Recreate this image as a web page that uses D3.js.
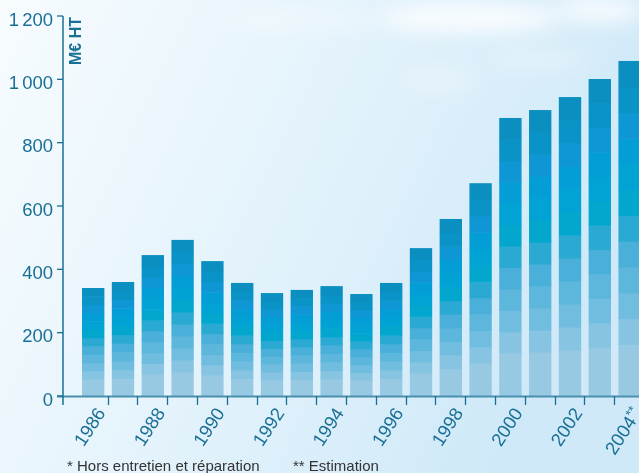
<!DOCTYPE html>
<html>
<head>
<meta charset="utf-8">
<script src="https://cdn.jsdelivr.net/npm/d3@7"></script>
<style>
  html, body { margin: 0; padding: 0; background: #eef8fd; }
  svg { display: block; }
  text { font-family: "Liberation Sans Narrow", "Liberation Sans", sans-serif; }
</style>
</head>
<body>
<svg id="chart" width="639" height="473"></svg>
<script>
// ---- data ----
const years = ["1986","1987","1988","1989","1990","1991","1992","1993","1994","1995","1996","1997","1998","1999","2000","2001","2002","2003","2004"];
const values = [341, 360, 445, 493, 426, 357, 325, 335, 347, 322, 357, 467, 559, 672, 878, 903, 944, 1001, 1058];
const yTicks = [0, 200, 400, 600, 800, 1000, 1200];
const xLabels = ["1986","1988","1990","1992","1994","1996","1998","2000","2002","2004**"];
const unitLabel = "M€ HT";
const note1 = "* Hors entretien et réparation";
const note2 = "** Estimation";

// band styling (top to bottom), bottom band has double weight
const bandColors = ["#0a8fc0","#0a93c6","#0e97d4","#049ed6","#00a3d4","#03a7ce","#2aa9d3","#4bb0d9","#5db7dc","#70bde0","#87c4e2","#98c9e3"];
const bandWeights = [1,1,1,1,1,1,1,1,1,1,1,2];

const svg = d3.select("#chart");
const W = 639, H = 473;

// ---- background ----
const defs = svg.append("defs");
const bg = defs.append("linearGradient").attr("id","bg").attr("x1","0").attr("y1","0").attr("x2","1").attr("y2","0.35");
bg.append("stop").attr("offset","0%").attr("stop-color","#f7fcfe");
bg.append("stop").attr("offset","45%").attr("stop-color","#e6f4fc");
bg.append("stop").attr("offset","100%").attr("stop-color","#cfe9f8");
svg.append("rect").attr("width",W).attr("height",H).attr("fill","url(#bg)");
const blur = defs.append("filter").attr("id","blur").attr("x","-50%").attr("y","-50%").attr("width","200%").attr("height","200%");
blur.append("feGaussianBlur").attr("stdDeviation","10");
const clouds = svg.append("g").attr("filter","url(#blur)");
[[470,18,90,14,0.85],[600,10,45,12,0.8],[440,80,40,10,0.35],[540,60,50,10,0.3],[300,20,80,12,0.3]].forEach(c=>{
  clouds.append("ellipse").attr("cx",c[0]).attr("cy",c[1]).attr("rx",c[2]).attr("ry",c[3]).attr("fill","#ffffff").attr("opacity",c[4]);
});

// ---- scales ----
const y = d3.scaleLinear().domain([0, 1200]).range([396, 16]);
const x = d3.scaleBand().domain(years).range([78.3, 78.3 + 19*29.8]).paddingInner(0.25).paddingOuter(0.125);
const step = x.step();
const fmt = d3.formatLocale({decimal: ",", thousands: " ", grouping: [3], currency: ["", " €"]}).format(",d");

const axisColor = "#1a6f95";

// ---- bars ----
const totalW = d3.sum(bandWeights);
const barsG = svg.append("g");
years.forEach((yr, i) => {
  const v = values[i];
  let cum = 0;
  for (let b = bandWeights.length - 1; b >= 0; b--) {
    const lo = v * cum / totalW;
    cum += bandWeights[b];
    const hi = v * cum / totalW;
    barsG.append("rect")
      .attr("x", x(yr))
      .attr("width", x.bandwidth())
      .attr("y", y(hi))
      .attr("height", y(lo) - y(hi) + 0.5)
      .attr("fill", bandColors[b]);
  }
});

// ---- x axis ----
svg.append("line").attr("x1",57).attr("x2",W).attr("y1",y(0)+0.5).attr("y2",y(0)+0.5)
  .attr("stroke","#4a8fae").attr("stroke-width",2);
const xt = svg.append("g");
years.slice(1).forEach(yr => {
  const xp = Math.round(x(yr) - x.paddingInner()*step/2 - 0.5) + 0.5;
  xt.append("line").attr("x1",xp).attr("x2",xp).attr("y1",y(0)).attr("y2",y(0)+9)
    .attr("stroke",axisColor).attr("stroke-width",1.3);
});
xLabels.forEach((lab) => {
  const yr = lab.replace(/\*/g,"");
  const cx = x(yr) + x.bandwidth()/2 + 13;
  const t = svg.append("text")
    .attr("transform", `translate(${cx},${y(0)+17}) rotate(-57)`)
    .attr("text-anchor","end")
    .attr("fill", axisColor)
    .attr("font-size", 18.5);
  if (lab.endsWith("**")) {
    t.text(yr);
    t.append("tspan").attr("font-size",13).attr("dy",-6).text("**");
  } else {
    t.text(lab);
  }
});

// ---- y axis ----
svg.append("line").attr("x1",63).attr("x2",63).attr("y1",y(1200)).attr("y2",y(0)+9)
  .attr("stroke",axisColor).attr("stroke-width",1.5);
const yt = svg.append("g");
yTicks.forEach(t => {
  yt.append("line").attr("x1",57).attr("x2",63).attr("y1",y(t)).attr("y2",y(t))
    .attr("stroke",axisColor).attr("stroke-width",1.3);
  yt.append("text").attr("x",53).attr("y",y(t)).attr("dy","0.52em")
    .attr("text-anchor","end").attr("fill",axisColor).attr("font-size",18.5)
    .attr("word-spacing","-2px")
    .text(fmt(t));
});
svg.append("text")
  .attr("transform", `translate(81,41) rotate(-90)`)
  .attr("text-anchor","middle")
  .attr("font-weight","bold").attr("font-size",16).attr("fill",axisColor)
  .text(unitLabel);

// ---- notes ----
svg.append("text").attr("x",67).attr("y",471).attr("font-size",15).attr("fill","#333").text(note1);
svg.append("text").attr("x",293).attr("y",471).attr("font-size",15).attr("fill","#333").text(note2);
</script>
</body>
</html>
